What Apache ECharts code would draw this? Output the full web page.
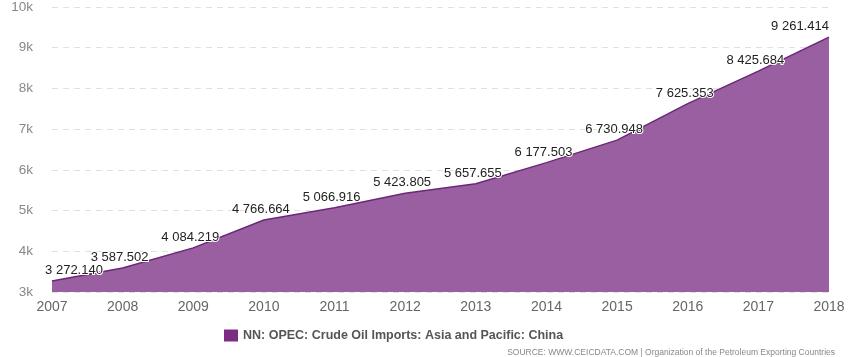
<!DOCTYPE html>
<html><head><meta charset="utf-8">
<script src="https://cdn.jsdelivr.net/npm/echarts@6/dist/echarts.min.js"></script>
<style>html,body{margin:0;padding:0;background:#fff}#c{width:858px;height:357px}</style>
</head><body><div id="c"></div>
<script>
const categories = ['2007','2008','2009','2010','2011','2012','2013','2014','2015','2016','2017','2018'];
const values = [3272.140, 3587.502, 4084.219, 4766.664, 5066.916, 5423.805, 5657.655, 6177.503, 6730.948, 7625.353, 8425.684, 9261.414];
const seriesName = 'NN: OPEC: Crude Oil Imports: Asia and Pacific: China';
const sourceText = 'SOURCE: WWW.CEICDATA.COM | Organization of the Petroleum Exporting Countries';

function fmt(v){
  const s = v.toFixed(3).split('.');
  return s[0].replace(/\B(?=(\d{3})+(?!\d))/g, ' ') + '.' + s[1];
}
const data = values.map((v,i)=>{
  const o = {value:v};
  if(i===0) o.label = {offset:[22,0]};
  if(i===values.length-1) o.label = {offset:[-29,0]};
  return o;
});
const chart = echarts.init(document.getElementById('c'));
chart.setOption({
  animation:false,
  grid:{left:52,right:29,top:7,bottom:65},
  xAxis:{type:'category',data:categories,boundaryGap:false,
    axisLine:{show:false},axisTick:{show:false},
    axisLabel:{color:'#666',fontSize:14,fontFamily:'Arial, Liberation Sans, sans-serif',margin:8}},
  yAxis:{type:'value',min:3000,max:10000,interval:1000,
    axisLabel:{color:'#888',fontSize:13.5,fontFamily:'Arial, Liberation Sans, sans-serif',margin:19,formatter:v=>(v/1000)+'k'},
    splitLine:{lineStyle:{color:'#e0e0e0',type:[6,5],width:1}}},
  legend:{bottom:10,left:219,itemWidth:14,itemHeight:12,icon:'rect',itemGap:5,
    textStyle:{color:'#555',fontSize:12.5,fontWeight:'bold',fontFamily:'Arial, Liberation Sans, sans-serif'},
    data:[{name:seriesName,itemStyle:{color:'#7b2d84'}}]},
  graphic:[{type:'text',right:23,bottom:0,style:{text:sourceText,fill:'#888',fontSize:8.5,fontFamily:'Arial, Liberation Sans, sans-serif'}}],
  series:[{name:seriesName,type:'line',data:data,symbol:'circle',symbolSize:0,showSymbol:true,
    lineStyle:{color:'#6a2877',width:1.5},
    itemStyle:{color:'#7b2d84'},
    areaStyle:{color:'#9a5fa0',opacity:1},
    label:{show:true,position:'top',distance:4,offset:[-3,0],color:'#222',fontSize:13,
      fontFamily:'Arial, Liberation Sans, sans-serif',
      textBorderColor:'#fff',textBorderWidth:2,
      formatter:p=>fmt(p.value)}}]
});
</script></body></html>
